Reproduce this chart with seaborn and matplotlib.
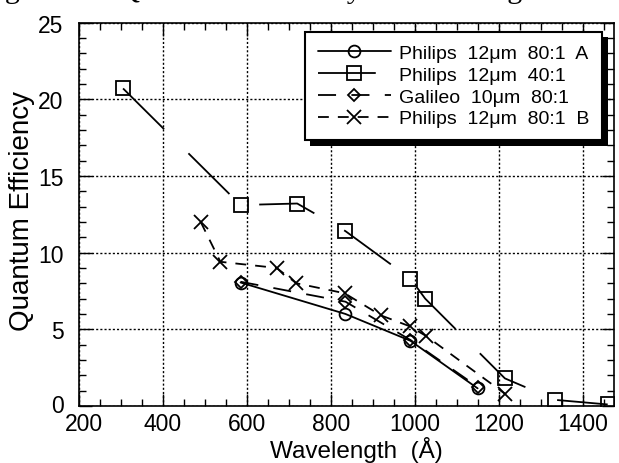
import matplotlib
matplotlib.use("Agg")
import matplotlib.pyplot as plt
import matplotlib.patheffects as pe
import matplotlib.transforms as mtransforms
from matplotlib.ticker import MultipleLocator
import seaborn as sns
import pandas as pd

# ---- data ----
a_wl = [585, 835, 990, 1150]
a_qe = [8.05, 6.0, 4.25, 1.15]

s_wl = [305, 585, 720, 835, 990, 1025, 1215, 1335, 1460]
s_qe = [20.7, 13.1, 13.2, 11.4, 8.3, 7.0, 1.8, 0.4, 0.1]

g_wl = [585, 835, 990, 1150]
g_qe = [8.1, 6.8, 4.3, 1.25]

b_wl = [490, 537, 671, 718, 833, 920, 988, 1028, 1215]
b_qe = [12.0, 9.4, 9.0, 8.0, 7.35, 5.9, 5.2, 4.55, 0.8]

labels = ["Philips  12\u03bcm  80:1  A",
          "Philips  12\u03bcm  40:1",
          "Galileo  10\u03bcm  80:1",
          "Philips  12\u03bcm  80:1  B"]

x_ticks = [200, 400, 600, 800, 1000, 1200, 1400]
y_ticks = [0, 5, 10, 15, 20, 25]

caption = "Figure 12.  Quantum Efficiency vs Wavelength"

sns.set_theme(style="ticks")
plt.rcParams["font.family"] = ["Liberation Sans", "DejaVu Sans"]

W, H = 619, 464
fig = plt.figure(figsize=(W / 100, H / 100), dpi=100)
ax = fig.add_axes([79 / W, 1 - 407 / H, (614 - 79) / W, (407 - 23.5) / H])

lw = 1.3
series = [
    (a_wl, a_qe, labels[0], "o", 8.5, "-"),
    (s_wl, s_qe, labels[1], "s", 9.5, (0, (32, 19))),
    (g_wl, g_qe, labels[2], "D", 6.5, (0, (10, 8.5))),
    (b_wl, b_qe, labels[3], "x", 10, (0, (6, 5))),
]
for xs, ys, lab, mk, ms, ls in series:
    df = pd.DataFrame({"wl": xs, "qe": ys})
    sns.lineplot(data=df, x="wl", y="qe", ax=ax, color="black", lw=lw,
                 linestyle=ls, marker=mk, markersize=ms,
                 markerfacecolor="none", markeredgecolor="black",
                 markeredgewidth=1.3, label=lab, sort=False)

ax.set_xlim(200, 1475)
ax.set_ylim(0, 25)
ax.set_xticks(x_ticks)
ax.set_yticks(y_ticks)
ax.xaxis.set_minor_locator(MultipleLocator(50))
ax.yaxis.set_minor_locator(MultipleLocator(1))
ax.tick_params(which="both", direction="in", top=True, right=True,
               color="black", width=1.0)
ax.tick_params(which="major", length=9, labelsize=16.5, labelcolor="black")
ax.tick_params(which="minor", length=5)
ax.tick_params(axis="x", which="major", pad=4.5)
ax.tick_params(axis="y", which="major", pad=11)
ax.grid(True, which="major", color="black", linestyle=(0, (1.5, 1.5)), linewidth=1.0)
for sp in ax.spines.values():
    sp.set_color("black")
    sp.set_linewidth(1.2)

# keep the corner labels "0" and "200" apart, as in the reference
first_x = ax.get_xticklabels()[0]
first_x.set_transform(first_x.get_transform() +
                      mtransforms.ScaledTranslation(5 / 100, 0, fig.dpi_scale_trans))
first_y = ax.get_yticklabels()[0]
first_y.set_transform(first_y.get_transform() +
                      mtransforms.ScaledTranslation(0, 3 / 100, fig.dpi_scale_trans))

ax.set_xlabel("Wavelength  (\u00c5)", fontsize=17.5, color="black", va="baseline")
ax.set_ylabel("Quantum Efficiency", fontsize=20, color="black")
ax.xaxis.set_label_coords((356 - 79) / 535, (407 - 458.5) / 383.5)
ax.yaxis.set_label_coords(-0.083, 0.51)

leg = ax.legend(loc="upper right", bbox_to_anchor=(0.978, 0.9765),
                bbox_transform=ax.transAxes, borderaxespad=0,
                fontsize=14, handlelength=3.8, handletextpad=0.4,
                labelspacing=0.22, borderpad=0.65, frameon=True,
                fancybox=False, framealpha=1)
frame = leg.get_frame()
frame.set_edgecolor("black")
frame.set_linewidth(1.5)
frame.set_facecolor("white")
frame.set_path_effects([pe.SimplePatchShadow(offset=(4, -4), shadow_rgbFace="black", alpha=1.0),
                        pe.Normal()])
for t in leg.get_texts():
    t.set_color("black")

# caption of the scanned page, cut off at the top edge (only descenders show)
fig.text(-20 / W, 1 + 2.5 / H, caption, family="Liberation Serif", fontsize=21.6,
         ha="left", va="baseline", color="black")

fig.savefig("out.png", dpi=100)
